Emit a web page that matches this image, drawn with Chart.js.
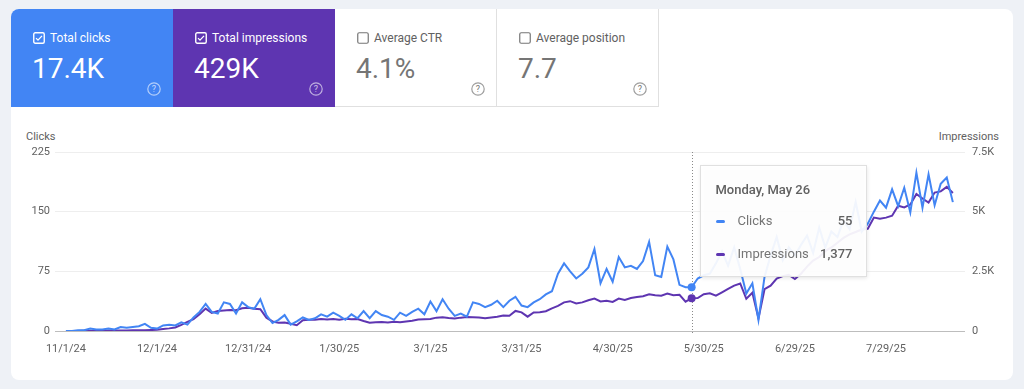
<!DOCTYPE html>
<html>
<head>
<meta charset="utf-8">
<script src="https://cdn.jsdelivr.net/npm/chart.js@4.4.1/dist/chart.umd.min.js"></script>
<style>
  html, body { margin: 0; padding: 0; }
  body { width: 1024px; height: 389px; background: #eef1f6; position: relative; overflow: hidden; font-family: Roboto, "Noto Sans", sans-serif; }
  .card { position: absolute; left: 11px; top: 9px; width: 1002px; height: 371px; background: #fff; border-radius: 8px; overflow: hidden; }
  .tile { position: absolute; top: 0; width: 162px; height: 98px; box-sizing: border-box; }
  .tile.white { border-right: 1px solid #e0e0e0; border-bottom: 1px solid #e0e0e0; }
  .tile .cb { position: absolute; left: 22px; top: 23px; }
  .tile .lbl { position: absolute; left: 39px; top: 22px; font-size: 12px; line-height: 14px; }
  .tile .val { position: absolute; left: 21px; top: 44px; font-size: 28px; line-height: 32px; }
  .tile .help { position: absolute; left: 136px; top: 73px; }
  .axis-title { position: absolute; top: 130px; font-size: 11px; color: #616161; line-height: 14px; }
  #wrap { position: absolute; left: 0; top: 120px; width: 1024px; height: 262px; }
</style>
</head>
<body>
<div class="card">
  <div class="tile" style="left:0;background:#4285f4;color:#fff;">
    <svg class="cb" width="12" height="12"><rect x="0.75" y="0.75" width="10.5" height="10.5" rx="1.5" fill="none" stroke="#fff" stroke-width="1.4"/><path d="M3 6.1 L5 8.1 L9 3.9" fill="none" stroke="#fff" stroke-width="1.3"/></svg>
    <div class="lbl">Total clicks</div>
    <div class="val">17.4K</div>
    <svg class="help" width="14" height="14"><circle cx="7" cy="7" r="6.2" fill="none" stroke="rgba(255,255,255,0.6)" stroke-width="1.2"/><text x="7" y="10.2" font-size="9" text-anchor="middle" fill="rgba(255,255,255,0.7)" font-family="Roboto">?</text></svg>
  </div>
  <div class="tile" style="left:162px;background:#5e35b1;color:#fff;">
    <svg class="cb" width="12" height="12"><rect x="0.75" y="0.75" width="10.5" height="10.5" rx="1.5" fill="none" stroke="#fff" stroke-width="1.4"/><path d="M3 6.1 L5 8.1 L9 3.9" fill="none" stroke="#fff" stroke-width="1.3"/></svg>
    <div class="lbl">Total impressions</div>
    <div class="val">429K</div>
    <svg class="help" width="14" height="14"><circle cx="7" cy="7" r="6.2" fill="none" stroke="rgba(255,255,255,0.6)" stroke-width="1.2"/><text x="7" y="10.2" font-size="9" text-anchor="middle" fill="rgba(255,255,255,0.7)" font-family="Roboto">?</text></svg>
  </div>
  <div class="tile white" style="left:324px;color:#616161;">
    <svg class="cb" width="12" height="12"><rect x="0.75" y="0.75" width="10.5" height="10.5" rx="1.5" fill="none" stroke="#757575" stroke-width="1.2"/></svg>
    <div class="lbl">Average CTR</div>
    <div class="val" style="color:#757575">4.1%</div>
    <svg class="help" width="14" height="14"><circle cx="7" cy="7" r="6.2" fill="none" stroke="#9e9e9e" stroke-width="1.2"/><text x="7" y="10.2" font-size="9" text-anchor="middle" fill="#757575" font-family="Roboto">?</text></svg>
  </div>
  <div class="tile white" style="left:486px;color:#616161;">
    <svg class="cb" width="12" height="12"><rect x="0.75" y="0.75" width="10.5" height="10.5" rx="1.5" fill="none" stroke="#757575" stroke-width="1.2"/></svg>
    <div class="lbl">Average position</div>
    <div class="val" style="color:#757575">7.7</div>
    <svg class="help" width="14" height="14"><circle cx="7" cy="7" r="6.2" fill="none" stroke="#9e9e9e" stroke-width="1.2"/><text x="7" y="10.2" font-size="9" text-anchor="middle" fill="#757575" font-family="Roboto">?</text></svg>
  </div>
</div>
<div class="axis-title" style="left:26px;">Clicks</div>
<div class="axis-title" style="right:25px;">Impressions</div>
<div id="wrap"><canvas id="chart" width="1024" height="262"></canvas></div>

<script>
// ─── DATA (one point every 2 days, from 11/1/24) ───────────────
const clicks = [
  0, 0, 1, 1, 3, 2, 2, 3, 2, 5,
  4, 5, 6, 9, 4, 3, 7, 8, 7, 11,
  8, 17, 24, 34, 24, 22, 36, 34, 22, 36,
  30, 28, 40, 20, 10, 14, 20, 8, 12, 17,
  14, 16, 21, 18, 23, 19, 14, 21, 16, 25,
  16, 25, 20, 18, 14, 23, 19, 24, 28, 21,
  37, 25, 40, 28, 19, 22, 18, 36, 34, 30,
  33, 38, 30, 38, 43, 32, 30, 36, 40, 46,
  50, 72, 85, 75, 66, 72, 80, 103, 60, 78,
  62, 93, 80, 82, 78, 88, 112, 70, 68, 106,
  90, 58, 55, 55, 66, 70, 72, 85, 100, 82,
  105, 78, 47, 60, 14, 68, 95, 118, 89, 105,
  95, 108, 120, 98, 130, 105, 125, 118, 139, 128,
  162, 125, 135, 150, 164, 155, 178, 157, 180, 149,
  199, 155, 197, 158, 185, 193, 162
];

const impressions = [
  0, 0, 5, 10, 10, 15, 15, 20, 20, 25,
  25, 30, 30, 35, 40, 50, 80, 110, 150, 260,
  380, 500, 700, 940, 760, 840, 860, 880, 870, 950,
  970, 930, 910, 560, 400, 350, 360, 300, 240, 450,
  470, 470, 500, 480, 500, 470, 510, 490, 500, 420,
  350, 370, 380, 360, 390, 370, 400, 430, 480, 490,
  500, 560, 580, 540, 520, 560, 590, 580, 570, 530,
  570, 600, 650, 640, 840, 780, 600, 780, 790, 830,
  950, 1050, 1200, 1250, 1150, 1200, 1290, 1360, 1240, 1270,
  1220, 1360, 1300, 1380, 1420, 1460, 1540, 1500, 1480, 1570,
  1500, 1520, 1230, 1377, 1380, 1540, 1580, 1480, 1620, 1760,
  1900, 1990, 1350, 1600, 530, 1750, 1900, 2200, 2300, 2350,
  2180, 2400, 2700, 2950, 3100, 3350, 3500, 3700, 3900, 4050,
  4150, 4250, 4280, 4750, 4700, 4750, 4830, 5250, 5180, 5300,
  5740, 5550, 5380, 5800, 5850, 6040, 5780
];

// x tick every 15 points (30 days)
const tickLabels = ['11/1/24', '12/1/24', '12/31/24', '1/30/25', '3/1/25', '3/31/25', '4/30/25', '5/30/25', '6/29/25', '7/29/25'];
const TICK_EVERY = 15;

// hovered point in the screenshot
const hoverIndex = 103;
const hoverTitle = 'Monday, May 26';

const BLUE = '#4285f4';
const PURPLE = '#5e35b1';
const TEXT = '#616161';

const toPoints = arr => arr.map((v, i) => ({ x: i, y: v }));

// ─── HOVER LINE + TOOLTIP ──────────────────────────────────────
const hoverPlugin = {
    id: 'hoverBox',
    beforeDatasetsDraw(chart) {
        const { ctx, chartArea, scales } = chart;
        const x = Math.round(scales.x.getPixelForValue(hoverIndex)) + 0.5;
        ctx.save();
        ctx.strokeStyle = '#8a8a8a';
        ctx.lineWidth = 1;
        ctx.setLineDash([1, 2]);
        ctx.beginPath();
        ctx.moveTo(x, chartArea.top);
        ctx.lineTo(x, chartArea.bottom + 2);
        ctx.stroke();
        ctx.restore();
    },
    afterDraw(chart) {
        const { ctx, chartArea, scales } = chart;
        const x = scales.x.getPixelForValue(hoverIndex);
        const left = Math.round(x + 8) + 0.5;
        const top = chartArea.top + 13.5;
        const w = 166, h = 111;

        ctx.save();
        ctx.shadowColor = 'rgba(0,0,0,0.12)';
        ctx.shadowBlur = 4;
        ctx.shadowOffsetY = 1;
        ctx.fillStyle = 'rgba(255,255,255,0.93)';
        ctx.fillRect(left, top, w, h);
        ctx.shadowColor = 'transparent';
        ctx.strokeStyle = '#e0e0e0';
        ctx.lineWidth = 1;
        ctx.strokeRect(left, top, w, h);

        ctx.textBaseline = 'middle';
        ctx.fillStyle = TEXT;
        ctx.font = '500 13px Roboto';
        ctx.textAlign = 'left';
        ctx.fillText(hoverTitle, left + 15, top + 25);

        const rows = [
            { label: 'Clicks', value: clicks[hoverIndex], color: BLUE, dy: 56 },
            { label: 'Impressions', value: impressions[hoverIndex], color: PURPLE, dy: 89 }
        ];
        rows.forEach(r => {
            const y = top + r.dy;
            ctx.strokeStyle = r.color;
            ctx.lineWidth = 3;
            ctx.lineCap = 'round';
            ctx.beginPath();
            ctx.moveTo(left + 17, y);
            ctx.lineTo(left + 23, y);
            ctx.stroke();

            ctx.font = '13px Roboto';
            ctx.fillStyle = '#757575';
            ctx.textAlign = 'left';
            ctx.fillText(r.label, left + 37, y);

            ctx.font = '500 13px Roboto';
            ctx.fillStyle = TEXT;
            ctx.textAlign = 'right';
            ctx.fillText(r.value.toLocaleString('en-US'), left + 152, y);
        });
        ctx.restore();
    }
};

const pointRadius = c => (c.dataIndex === hoverIndex ? 4 : 0);

new Chart(document.getElementById('chart'), {
    type: 'line',
    data: {
        datasets: [{
            label: 'Clicks',
            data: toPoints(clicks),
            yAxisID: 'y',
            borderColor: BLUE,
            backgroundColor: BLUE,
            borderWidth: 2,
            tension: 0,
            pointRadius,
            pointBorderWidth: 0
        }, {
            label: 'Impressions',
            data: toPoints(impressions),
            yAxisID: 'y2',
            borderColor: PURPLE,
            backgroundColor: PURPLE,
            borderWidth: 2,
            tension: 0,
            pointRadius,
            pointBorderWidth: 0
        }]
    },
    options: {
        responsive: false,
        animation: false,
        layout: { padding: { top: 32, bottom: 21, left: 0, right: 0 } },
        plugins: { legend: { display: false }, tooltip: { enabled: false } },
        scales: {
            x: {
                type: 'linear',
                min: -1.8,
                max: 148,
                grid: { display: false, drawTicks: false },
                border: { display: false },
                afterBuildTicks: axis => {
                    axis.ticks = tickLabels.map((_, i) => ({ value: i * TICK_EVERY }));
                },
                afterFit: axis => { axis.height = 30; },
                ticks: {
                    color: TEXT,
                    font: { family: 'Roboto', size: 11 },
                    padding: 12,
                    maxRotation: 0,
                    autoSkip: false,
                    callback: v => tickLabels[v / TICK_EVERY]
                }
            },
            y: {
                position: 'left',
                min: 0,
                max: 225,
                afterFit: axis => { axis.width = 55; },
                grid: {
                    drawTicks: false,
                    color: c => (c.tick.value === 0 ? '#bdbdbd' : '#eeeeee')
                },
                border: { display: false },
                ticks: {
                    stepSize: 75,
                    padding: 5,
                    color: TEXT,
                    font: { family: 'Roboto', size: 11 }
                }
            },
            y2: {
                position: 'right',
                min: 0,
                max: 7500,
                afterFit: axis => { axis.width = 59; },
                grid: { display: false, drawTicks: false },
                border: { display: false },
                ticks: {
                    stepSize: 2500,
                    padding: 7,
                    color: TEXT,
                    font: { family: 'Roboto', size: 11 },
                    callback: v => (v === 0 ? '0' : (v / 1000) + 'K')
                }
            }
        }
    },
    plugins: [hoverPlugin]
});
</script>
</body>
</html>
